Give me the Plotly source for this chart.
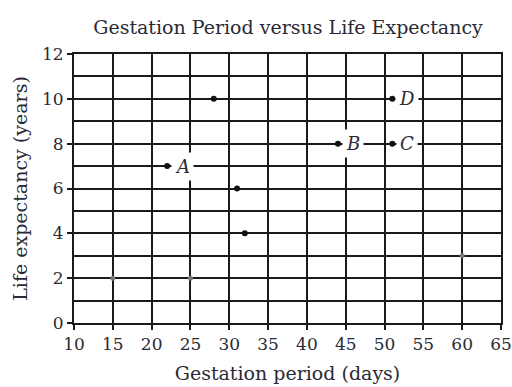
import plotly.graph_objects as go

# Gestation period (days) and life expectancy (years) for each animal
gestation = [15, 25, 28, 22, 31, 32, 44, 51, 51, 60]
life_exp = [2, 2, 10, 7, 6, 4, 8, 8, 10, 3]
faint = [True, True, False, False, False, False, False, False, False, True]

# Labelled points
label_names = ["A", "B", "C", "D"]
label_x = [22, 44, 51, 51]
label_y = [7, 8, 8, 10]

x_ticks = [10, 15, 20, 25, 30, 35, 40, 45, 50, 55, 60, 65]
y_ticks = [0, 2, 4, 6, 8, 10, 12]

serif = "DejaVu Serif, serif"
ink = "#2a2a35"
grid = "#1a1a1a"

fig = go.Figure()

solid_x = [g for g, f in zip(gestation, faint) if not f]
solid_y = [v for v, f in zip(life_exp, faint) if not f]
pale_x = [g for g, f in zip(gestation, faint) if f]
pale_y = [v for v, f in zip(life_exp, faint) if f]

fig.add_trace(go.Scatter(x=solid_x, y=solid_y, mode="markers",
                         marker=dict(color="#111111", size=6),
                         cliponaxis=False, showlegend=False))
fig.add_trace(go.Scatter(x=pale_x, y=pale_y, mode="markers",
                         marker=dict(color="#7a7a7a", size=5),
                         cliponaxis=False, showlegend=False))

for name, lx, ly in zip(label_names, label_x, label_y):
    fig.add_annotation(x=lx, y=ly, text=f"<i>{name}</i>", showarrow=False,
                       xshift=15, bgcolor="white", borderpad=3,
                       font=dict(family=serif, size=18, color=ink))

fig.update_layout(
    width=512, height=387,
    margin=dict(l=74, r=11, t=54, b=64),
    paper_bgcolor="white", plot_bgcolor="white",
    title=dict(text="Gestation Period versus Life Expectancy",
               x=0.5625, xanchor="center", y=0.93, yanchor="middle",
               font=dict(family=serif, size=19, color=ink)),
    font=dict(family=serif, size=18, color=ink),
)

fig.update_xaxes(
    range=[10, 65], tickvals=x_ticks, ticktext=[str(t) for t in x_ticks],
    showgrid=True, gridcolor=grid, gridwidth=2,
    showline=True, linecolor=grid, linewidth=2, mirror=True,
    ticks="outside", ticklen=5, tickwidth=2, tickcolor=grid,
    zeroline=False, automargin=False,
    title=dict(text="Gestation period (days)", standoff=13,
               font=dict(family=serif, size=19, color=ink)),
    tickfont=dict(family=serif, size=17, color=ink),
)

fig.update_yaxes(
    range=[0, 12], tickvals=y_ticks, ticktext=[str(t) for t in y_ticks],
    showgrid=True, gridcolor=grid, gridwidth=2,
    minor=dict(dtick=1, showgrid=True, gridcolor=grid, gridwidth=2),
    showline=True, linecolor=grid, linewidth=2, mirror=True,
    ticks="outside", ticklen=5, tickwidth=2, tickcolor=grid,
    zeroline=False, automargin=False,
    title=dict(text="Life expectancy (years)", standoff=9,
               font=dict(family=serif, size=19, color=ink)),
    tickfont=dict(family=serif, size=17, color=ink),
)

fig.write_html("out.html")
